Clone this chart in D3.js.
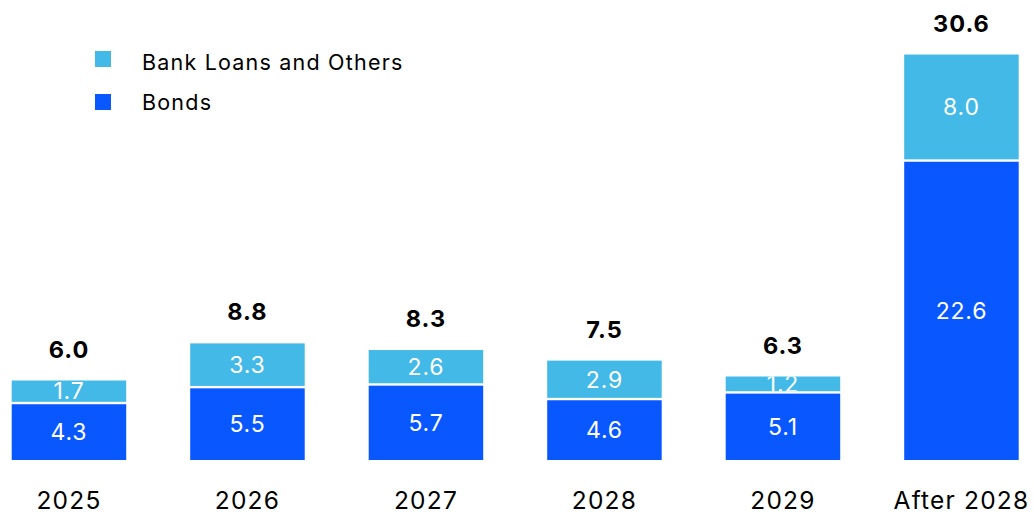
<!DOCTYPE html>
<html>
<head>
<meta charset="utf-8">
<script src="https://cdn.jsdelivr.net/npm/d3@7"></script>
<style>
  html, body { margin: 0; padding: 0; background: #ffffff; }
  svg { display: block; font-family: Inter, "Open Sans", sans-serif; }
</style>
</head>
<body>
<svg id="chart" width="1034" height="514"></svg>
<script>
// Maturity profile: bonds vs bank loans and others, by year
const categories = ["2025", "2026", "2027", "2028", "2029", "After 2028"];
const bonds      = [4.3, 5.5, 5.7, 4.6, 5.1, 22.6];
const bankLoans  = [1.7, 3.3, 2.6, 2.9, 1.2, 8.0];
const totals     = [6.0, 8.8, 8.3, 7.5, 6.3, 30.6];
const seriesNames = ["Bank Loans and Others", "Bonds"];

const colors = { bonds: "#0957FF", loans: "#42B9E6" };

const svg = d3.select("#chart");
const baseY = 460;

const x = d3.scaleBand()
  .domain(categories)
  .range([-24, 1054.4])
  .paddingInner(0.3585)
  .paddingOuter(0.2);

const y = d3.scaleLinear()
  .domain([0, 31])
  .range([baseY, baseY - 31 * 13.25]);

const rows = categories.map((c, i) => ({
  cat: c, bonds: bonds[i], loans: bankLoans[i], total: totals[i]
}));

const stack = d3.stack().keys(["bonds", "loans"]);
const layers = stack(rows);

const defs = svg.append("defs");

layers.forEach(layer => {
  const key = layer.key;
  const g = svg.append("g").attr("class", "layer-" + key);
  layer.forEach((d, i) => {
    const x0 = x(d.data.cat);
    const bw = x.bandwidth();
    const top = y(d[1]);
    const bottom = y(d[0]);
    // small white gap between stacked segments
    const yTop = key === "bonds" ? top + 1.2 : top;
    const yBot = key === "bonds" ? bottom : bottom - 1.2;
    const id = "clip-" + key + "-" + i;
    defs.append("clipPath").attr("id", id)
      .append("rect")
      .attr("x", x0).attr("y", yTop)
      .attr("width", bw).attr("height", Math.max(0, yBot - yTop));
    g.append("rect")
      .attr("x", x0).attr("y", yTop)
      .attr("width", bw).attr("height", Math.max(0, yBot - yTop))
      .attr("fill", colors[key]);
    const fs = 23;
    g.append("text")
      .attr("clip-path", "url(#" + id + ")")
      .attr("x", x0 + bw / 2)
      .attr("y", (yTop + yBot) / 2 + fs * 0.36)
      .attr("text-anchor", "middle")
      .attr("fill", "#ffffff")
      .attr("font-size", fs)
      .attr("letter-spacing", "0.8px")
      .text(d3.format(".1f")(d.data[key]));
  });
});

// totals above each bar
svg.append("g").selectAll("text")
  .data(rows)
  .join("text")
  .attr("x", d => x(d.cat) + x.bandwidth() / 2)
  .attr("y", d => y(d.total) - 23)
  .attr("text-anchor", "middle")
  .attr("font-size", 23.5)
  .attr("font-weight", 700)
  .attr("letter-spacing", "1px")
  .attr("fill", "#000000")
  .text(d => d3.format(".1f")(d.total));

// category axis labels
const xAxis = d3.axisBottom(x).tickSize(0).tickPadding(0);
const axisG = svg.append("g")
  .attr("transform", `translate(0, ${baseY})`)
  .call(xAxis);
axisG.select(".domain").remove();
axisG.selectAll("text")
  .attr("y", 48.5)
  .attr("dy", null)
  .attr("font-size", 24.5)
  .attr("letter-spacing", "1.2px")
  .attr("font-family", "Inter, 'Open Sans', sans-serif")
  .attr("fill", "#000000");

// legend
const legend = svg.append("g");
const legendColors = [colors.loans, colors.bonds];
seriesNames.forEach((name, i) => {
  legend.append("rect")
    .attr("x", 95).attr("y", 51 + i * 43)
    .attr("width", 16).attr("height", 16)
    .attr("fill", legendColors[i]);
  legend.append("text")
    .attr("x", 142).attr("y", 70 + i * 40)
    .attr("font-size", 21.5)
    .attr("letter-spacing", "1.2px")
    .attr("fill", "#000000")
    .text(name);
});
</script>
</body>
</html>
